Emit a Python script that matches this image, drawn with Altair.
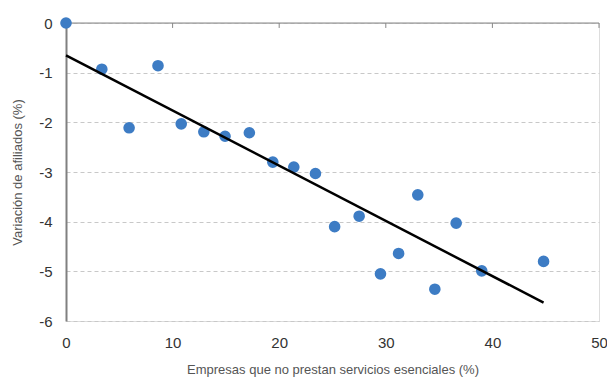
import altair as alt
import pandas as pd

# Data
empresas = [0, 3.36, 5.92, 8.63, 10.81, 12.93, 14.92, 17.2, 19.4, 21.37, 23.4,
            25.2, 27.5, 29.5, 31.2, 33.0, 34.6, 36.6, 39.0, 44.8]
afiliados = [0, -0.93, -2.11, -0.86, -2.03, -2.19, -2.28, -2.21, -2.8, -2.9, -3.03,
             -4.1, -3.89, -5.05, -4.64, -3.46, -5.36, -4.03, -4.99, -4.8]
trend_x = [0, 44.8]
trend_y = [-0.65, -5.63]
x_ticks = [0, 10, 20, 30, 40, 50]
y_ticks = [0, -1, -2, -3, -4, -5, -6]
top_ticks = [10, 20, 30, 40, 50]

pts = pd.DataFrame({"x": empresas, "y": afiliados})
trend = pd.DataFrame({"x": trend_x, "y": trend_y})
topline = pd.DataFrame({"x": [0], "x2": [50], "y": [0]})
ticks = pd.DataFrame({"x": top_ticks, "y": [0] * len(top_ticks), "y2": [-0.1] * len(top_ticks)})

FONT = "Liberation Sans"

xscale = alt.Scale(domain=[0, 50], nice=False, zero=False)
yscale = alt.Scale(domain=[-6, 0], nice=False, zero=False)

xaxis = alt.Axis(values=x_ticks, grid=False, domain=False, ticks=False,
                 labelFlush=False, labelBound=False,
                 labelPadding=14, labelFontSize=15, labelColor="#333333",
                 labelFont=FONT, labelExpr="datum.value + ''",
                 title="Empresas que no prestan servicios esenciales (%)",
                 titleFont=FONT, titleFontSize=13, titleFontWeight="normal",
                 titleColor="#555555", titlePadding=13)
yaxis = alt.Axis(values=y_ticks, grid=True, gridDash=[4, 3], gridColor="#c8c8c8",
                 gridWidth=1, domain=True, domainColor="#808080", domainWidth=2,
                 ticks=False, labelFlush=False, labelBound=False,
                 labelPadding=14, labelFontSize=15, labelColor="#333333",
                 labelFont=FONT, labelExpr="datum.value + ''",
                 title="Variación de afiliados (%)",
                 titleFont=FONT, titleFontSize=13, titleFontWeight="normal",
                 titleColor="#555555", titlePadding=14)

base_points = alt.Chart(pts).mark_circle(size=135, color="#3d7cc4", opacity=1).encode(
    x=alt.X("x:Q", scale=xscale, axis=xaxis),
    y=alt.Y("y:Q", scale=yscale, axis=yaxis),
)

top_rule = alt.Chart(topline).mark_rule(color="#888888", strokeWidth=1).encode(
    x=alt.X("x:Q", scale=xscale), x2="x2:Q", y=alt.Y("y:Q", scale=yscale)
)
top_ticks_m = alt.Chart(ticks).mark_rule(color="#888888", strokeWidth=1).encode(
    x=alt.X("x:Q", scale=xscale), y=alt.Y("y:Q", scale=yscale), y2="y2:Q"
)

trend_line = alt.Chart(trend).mark_line(color="black", strokeWidth=2.5).encode(
    x=alt.X("x:Q", scale=xscale), y=alt.Y("y:Q", scale=yscale)
)

chart = alt.layer(top_rule, top_ticks_m, base_points, trend_line).properties(
    width=533, height=298,
    autosize=alt.AutoSizeParams(type="none"),
    padding={"left": 58, "top": 15, "right": 8, "bottom": 58},
).configure_view(stroke=None).configure(background="white")

chart.save("out.html", embed_options={"renderer": "svg", "actions": False})
